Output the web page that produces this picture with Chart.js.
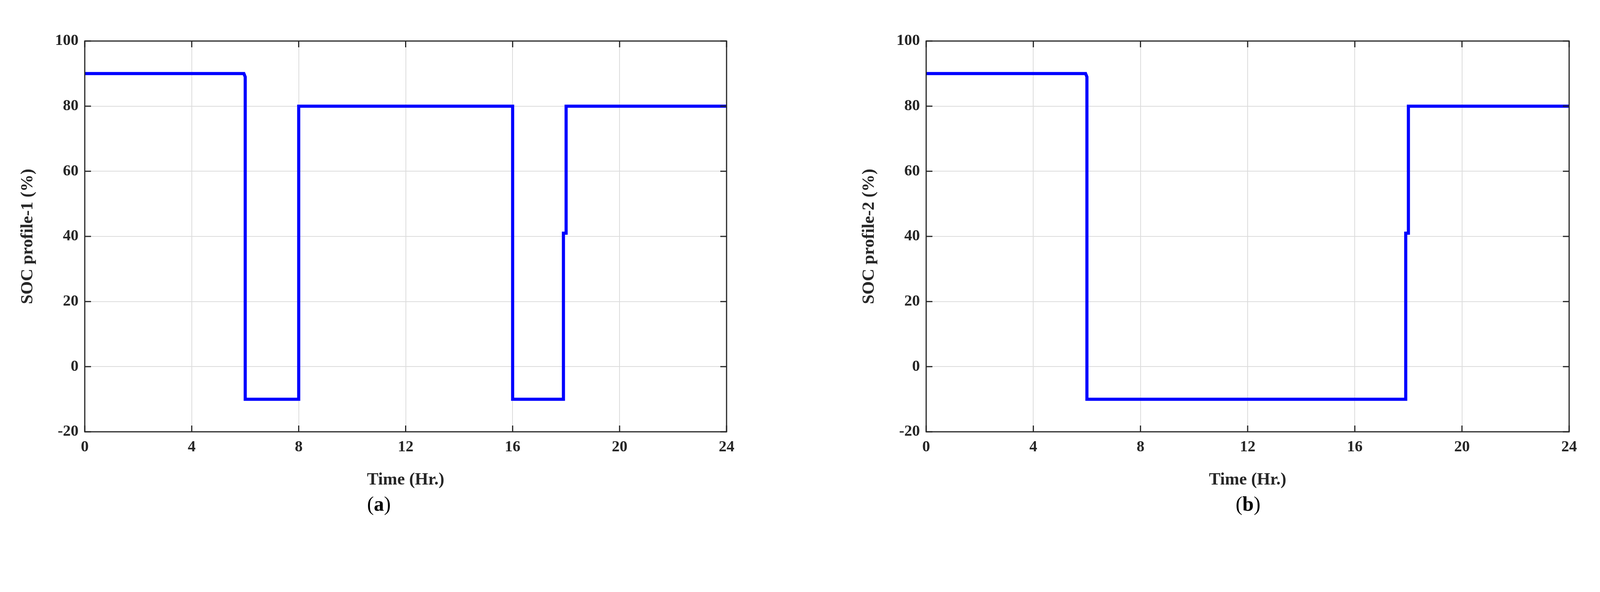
<!DOCTYPE html>
<html>
<head>
<meta charset="utf-8">
<script src="https://cdn.jsdelivr.net/npm/chart.js@4.4.0/dist/chart.umd.min.js"></script>
<style>
  body { margin: 0; background: #fff; width: 4111px; height: 1515px; position: relative; overflow: hidden; }
  .box { position: absolute; top: 0; width: 2055px; height: 1515px; }
  .cap { position: absolute; top: 1260px; font: 52px "Liberation Serif", serif; width: 200px; text-align: center; }
</style>
</head>
<body>
<div class="box" style="left:0"><canvas id="c1"></canvas></div>
<div class="box" style="left:2055px;width:2056px"><canvas id="c2"></canvas></div>
<div class="cap" style="left:870px">(<b>a</b>)</div>
<div class="cap" style="left:3095px">(<b>b</b>)</div>
<script>
// step profiles: time (h) and SOC (%) at each corner
const time1 = [0, 5.95, 6, 6, 8, 8, 16, 16, 17.9, 17.9, 18, 18, 24];
const soc1 = [90, 90, 89, -10, -10, 80, 80, -10, -10, 41, 41, 80, 80];
const time2 = [0, 5.95, 6, 6, 17.9, 17.9, 18, 18, 24];
const soc2 = [90, 90, 89, -10, -10, 41, 41, 80, 80];
const xTicks = [0, 4, 8, 12, 16, 20, 24];
const yTicks = [-20, 0, 20, 40, 60, 80, 100];

const frame = {
  id: "frame",
  afterDraw(chart) {
    const a = chart.chartArea, ctx = chart.ctx;
    ctx.save();
    ctx.strokeStyle = "#262626";
    ctx.lineWidth = 3;
    ctx.strokeRect(a.left, a.top, a.right - a.left, a.bottom - a.top);
    // inward tick marks
    ctx.beginPath();
    chart.scales.x.ticks.forEach((t, i) => {
      const x = chart.scales.x.getPixelForTick(i);
      ctx.moveTo(x, a.bottom); ctx.lineTo(x, a.bottom - 16);
      ctx.moveTo(x, a.top); ctx.lineTo(x, a.top + 16);
    });
    chart.scales.y.ticks.forEach((t, i) => {
      const y = chart.scales.y.getPixelForTick(i);
      ctx.moveTo(a.left, y); ctx.lineTo(a.left + 16, y);
      ctx.moveTo(a.right, y); ctx.lineTo(a.right - 16, y);
    });
    ctx.stroke();
    ctx.restore();
  }
};

function makeChart(id, t, v, ytitle, yWidth, titlePad, padRight) {
  const font = { family: "Liberation Serif", weight: "bold" };
  new Chart(document.getElementById(id), {
    type: "scatter",
    data: {
      datasets: [{
        data: t.map((x, i) => ({ x: x, y: v[i] })),
        showLine: true,
        borderColor: "#0000ff",
        borderWidth: 8,
        pointRadius: 0,
        tension: 0,
      }],
    },
    options: {
      responsive: false,
      animation: false,
      layout: { padding: { top: 105, right: padRight, left: 0, bottom: 260 } },
      plugins: { legend: { display: false }, tooltip: { enabled: false } },
      scales: {
        x: {
          type: "linear", min: 0, max: 24,
          afterBuildTicks: (s) => { s.ticks = xTicks.map((x) => ({ value: x })); },
          afterFit: (s) => { s.height = 150; },
          grid: { color: "#dcdcdc", lineWidth: 2, tickLength: 0, drawTicks: false },
          border: { display: false },
          ticks: { color: "#262626", font: { ...font, size: 40 }, padding: 16 },
          title: { display: true, text: "Time (Hr.)", color: "#262626", font: { ...font, size: 44 }, padding: { top: 6, bottom: 0 } },
        },
        y: {
          min: -20, max: 100,
          afterBuildTicks: (s) => { s.ticks = yTicks.map((y) => ({ value: y })); },
          afterFit: (s) => { s.width = yWidth; },
          grid: { color: "#dcdcdc", lineWidth: 2, tickLength: 0, drawTicks: false },
          border: { display: false },
          ticks: { color: "#262626", font: { ...font, size: 40 }, padding: 16 },
          title: { display: true, text: ytitle, color: "#262626", font: { ...font, size: 44 }, padding: { top: titlePad, bottom: 0 } },
        },
      },
    },
    plugins: [frame],
  });
}

document.getElementById("c1").width = 2055;
document.getElementById("c1").height = 1515;
document.getElementById("c2").width = 2056;
document.getElementById("c2").height = 1515;
makeChart("c1", time1, soc1, "SOC profile-1 (%)", 217, 45, 195);
makeChart("c2", time2, soc2, "SOC profile-2 (%)", 316, 144, 94);
</script>
</body>
</html>
